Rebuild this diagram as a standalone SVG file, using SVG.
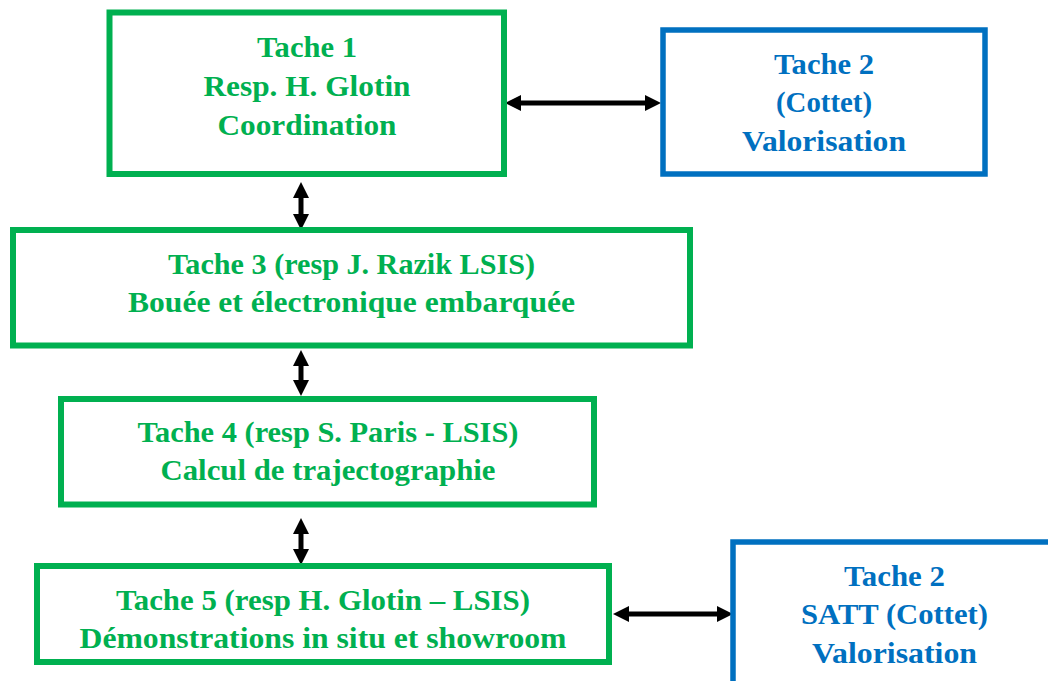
<svg xmlns="http://www.w3.org/2000/svg" width="1048" height="681" viewBox="0 0 1048 681">
<style>
.g{fill:#fff;stroke:#00B050;stroke-width:6}
.b{fill:#fff;stroke:#0070C0;stroke-width:5.5}
text{font-family:"Liberation Serif","Times New Roman",serif;font-weight:bold;font-size:29.5px;text-anchor:middle}
.tg{fill:#00B050}
.tb{fill:#0070C0}
.c{stroke:#000;stroke-width:5;fill:none;marker-start:url(#ah);marker-end:url(#ah)}
</style>
<defs>
<marker id="ah" markerUnits="userSpaceOnUse" markerWidth="17" markerHeight="17" viewBox="0 0 17 17" refX="7" refY="8" orient="auto-start-reverse">
<path d="M0,0 L16,8 L0,16 Z" fill="#000"/>
</marker>
</defs>
<rect width="1048" height="681" fill="#fff"/>
<g id="connectors">
<line class="c" x1="514" y1="103" x2="652" y2="103"/>
<line class="c" x1="301" y1="191" x2="301" y2="221"/>
<line class="c" x1="301" y1="359" x2="301" y2="387"/>
<line class="c" x1="301" y1="527" x2="301" y2="556"/>
<line class="c" x1="622" y1="614" x2="724" y2="614"/>
</g>
<g id="tache1">
<rect class="g" x="109.5" y="12.5" width="394.5" height="161.5"/>
<text class="tg" x="307" y="57" textLength="100" lengthAdjust="spacingAndGlyphs">Tache 1</text>
<text class="tg" x="307" y="96" textLength="207" lengthAdjust="spacingAndGlyphs">Resp. H. Glotin</text>
<text class="tg" x="307" y="135" textLength="179" lengthAdjust="spacingAndGlyphs">Coordination</text>
</g>
<g id="tache2a">
<rect class="b" x="663" y="30" width="322" height="144"/>
<text class="tb" x="824" y="74" textLength="100" lengthAdjust="spacingAndGlyphs">Tache 2</text>
<text class="tb" x="824" y="112" textLength="96" lengthAdjust="spacingAndGlyphs">(Cottet)</text>
<text class="tb" x="824" y="151" textLength="164" lengthAdjust="spacingAndGlyphs">Valorisation</text>
</g>
<g id="tache3">
<rect class="g" x="13" y="230" width="677" height="115.5"/>
<text class="tg" x="351.5" y="274" textLength="367" lengthAdjust="spacingAndGlyphs">Tache 3 (resp J. Razik LSIS)</text>
<text class="tg" x="351.5" y="312" textLength="447" lengthAdjust="spacingAndGlyphs">Bouée et électronique embarquée</text>
</g>
<g id="tache4">
<rect class="g" x="61" y="399" width="533" height="105.5"/>
<text class="tg" x="328" y="442" textLength="381" lengthAdjust="spacingAndGlyphs">Tache 4 (resp S. Paris - LSIS)</text>
<text class="tg" x="328" y="480" textLength="335" lengthAdjust="spacingAndGlyphs">Calcul de trajectographie</text>
</g>
<g id="tache5">
<rect class="g" x="37" y="566" width="572" height="96"/>
<text class="tg" x="323" y="610" textLength="414" lengthAdjust="spacingAndGlyphs">Tache 5 (resp H. Glotin – LSIS)</text>
<text class="tg" x="323" y="648" textLength="487" lengthAdjust="spacingAndGlyphs">Démonstrations in situ et showroom</text>
</g>
<g id="tache2b">
<rect class="b" x="733" y="542" width="400" height="200"/>
<text class="tb" x="894.5" y="586" textLength="101" lengthAdjust="spacingAndGlyphs">Tache 2</text>
<text class="tb" x="894.5" y="624" textLength="187" lengthAdjust="spacingAndGlyphs">SATT (Cottet)</text>
<text class="tb" x="894.5" y="663" textLength="165" lengthAdjust="spacingAndGlyphs">Valorisation</text>
</g>
</svg>
